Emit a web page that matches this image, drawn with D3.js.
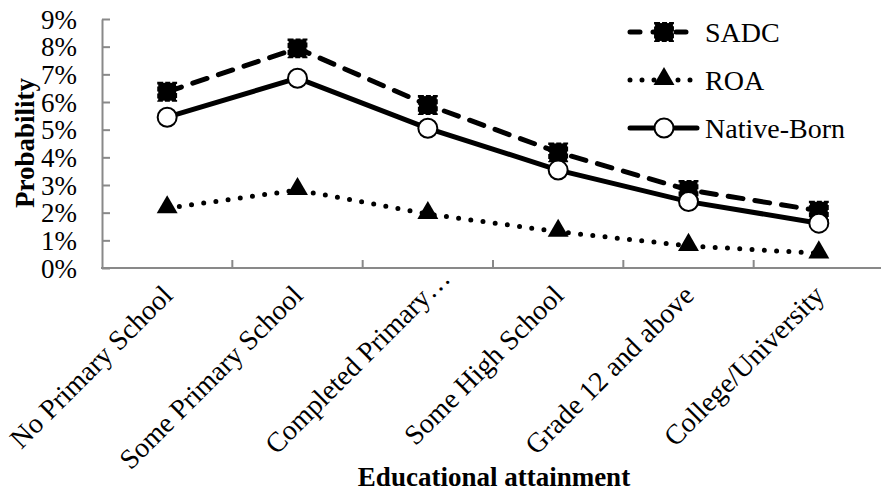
<!DOCTYPE html>
<html>
<head>
<meta charset="utf-8">
<script src="https://cdn.jsdelivr.net/npm/d3@7"></script>
<style>
  html, body { margin: 0; padding: 0; background: #fff; }
  svg { display: block; }
</style>
</head>
<body>
<svg id="chart" width="881" height="491"></svg>
<script>
// Probability by educational attainment
const categories = [
  "No Primary School",
  "Some Primary School",
  "Completed Primary…",
  "Some High School",
  "Grade 12 and above",
  "College/University"
];
const sadc = [0.0637, 0.0794, 0.0589, 0.0418, 0.0282, 0.0207];
const roa = [0.0216, 0.0282, 0.0195, 0.0131, 0.0080, 0.0053];
const nativeBorn = [0.0545, 0.0686, 0.0505, 0.0354, 0.0240, 0.0162];
const yTicks = [0, 0.01, 0.02, 0.03, 0.04, 0.05, 0.06, 0.07, 0.08, 0.09];
const seriesNames = ["SADC", "ROA", "Native-Born"];

const FONT = "'Liberation Serif', 'Times New Roman', Times, serif";
const svg = d3.select("#chart");
const plotLeft = 102, plotRight = 884, plotTop = 19, plotBottom = 268;

const x = d3.scaleBand().domain(categories).range([plotLeft, plotRight]);
const y = d3.scaleLinear().domain([0, 0.09]).range([plotBottom, plotTop]);

const axisColor = "#898989";

// y axis: ticks point into the plot
const yAxis = svg.append("g")
  .attr("transform", `translate(${plotLeft},0)`)
  .call(d3.axisRight(y).tickValues(yTicks).tickSize(8).tickFormat(d3.format(".0%")).tickSizeOuter(0));
yAxis.attr("font-family", null).attr("font-size", null);
yAxis.select(".domain").attr("stroke", axisColor).attr("stroke-width", 2);
yAxis.selectAll(".tick line").attr("stroke", axisColor).attr("stroke-width", 2);
yAxis.selectAll(".tick text")
  .attr("x", -25).attr("text-anchor", "end").attr("dy", "0.34em")
  .style("font-family", FONT).style("font-size", "27px").attr("fill", "#000");

// x axis: ticks between categories, pointing up
const bounds = d3.range(1, categories.length).map(i => plotLeft + i * x.bandwidth());
svg.append("line")
  .attr("x1", plotLeft - 1).attr("x2", plotRight).attr("y1", plotBottom).attr("y2", plotBottom)
  .attr("stroke", axisColor).attr("stroke-width", 2);
svg.selectAll(".xtick").data(bounds).join("line")
  .attr("x1", d => d).attr("x2", d => d)
  .attr("y1", plotBottom).attr("y2", plotBottom - 8)
  .attr("stroke", axisColor).attr("stroke-width", 2);

// rotated category labels; truncated labels sit a little further along the baseline
svg.selectAll(".xlabel").data(categories).join("text")
  .attr("text-anchor", "end")
  .style("font-family", FONT).style("font-size", "28px")
  .attr("transform", d => `translate(${x(d) + x.bandwidth() / 2 + 7},${plotBottom + 29}) rotate(-45)`)
  .attr("dx", d => d.endsWith("…") ? 24 : 0)
  .text(d => d);

// axis titles
svg.append("text")
  .attr("x", 494).attr("y", 486)
  .attr("text-anchor", "middle")
  .style("font-family", FONT).style("font-size", "27px").style("font-weight", "bold")
  .text("Educational attainment");
svg.append("text")
  .attr("transform", "translate(34,143) rotate(-90)")
  .attr("text-anchor", "middle")
  .style("font-family", FONT).style("font-size", "27px").style("font-weight", "bold")
  .text("Probability");

const cx = (d, i) => x(categories[i]) + x.bandwidth() / 2;
const line = d3.line().x((d, i) => cx(d, i)).y(d => y(d));

const square = d3.symbol().type(d3.symbolSquare).size(320);
const triangle = d3.symbol().type(d3.symbolTriangle).size(190);

// ROA – dotted line with triangles
svg.append("path").datum(roa)
  .attr("d", line).attr("fill", "none").attr("stroke", "#000")
  .attr("stroke-width", 5).attr("stroke-linecap", "round")
  .attr("stroke-dasharray", "0 12.3");
svg.selectAll(".roa").data(roa).join("path")
  .attr("d", triangle)
  .attr("transform", (d, i) => `translate(${cx(d, i)},${y(d) - 1})`)
  .attr("fill", "#000");

// SADC – dashed line with squares
svg.append("path").datum(sadc)
  .attr("d", line).attr("fill", "none").attr("stroke", "#000")
  .attr("stroke-width", 5).attr("stroke-linecap", "round")
  .attr("stroke-dasharray", "15 12");
svg.selectAll(".sadc").data(sadc).join("path")
  .attr("d", square)
  .attr("transform", (d, i) => `translate(${cx(d, i)},${y(d)})`)
  .attr("fill", "#000").attr("stroke", "#000").attr("stroke-width", 2)
  .attr("stroke-dasharray", "5 2");

// Native-Born – solid line with open circles
svg.append("path").datum(nativeBorn)
  .attr("d", line).attr("fill", "none").attr("stroke", "#000")
  .attr("stroke-width", 5);
svg.selectAll(".nb").data(nativeBorn).join("circle")
  .attr("cx", (d, i) => cx(d, i)).attr("cy", d => y(d)).attr("r", 9.5)
  .attr("fill", "#fff").attr("stroke", "#000").attr("stroke-width", 2);

// legend
const lg = svg.append("g");
const rows = [
  { name: seriesNames[0], yy: 32, dash: "10 13", kind: "square" },
  { name: seriesNames[1], yy: 80, dash: "0 12", kind: "triangle" },
  { name: seriesNames[2], yy: 128, dash: null, kind: "circle" }
];
rows.forEach(r => {
  const g = lg.append("g").attr("transform", `translate(0,${r.yy})`);
  const ln = g.append("line").attr("x1", 630).attr("x2", 697).attr("y1", 0).attr("y2", 0)
    .attr("stroke", "#000").attr("stroke-width", 5).attr("stroke-linecap", "round");
  if (r.dash) ln.attr("stroke-dasharray", r.dash);
  if (r.kind === "square") {
    g.append("path").attr("d", square).attr("transform", "translate(664,0)")
      .attr("fill", "#000").attr("stroke", "#000").attr("stroke-width", 2).attr("stroke-dasharray", "5 2");
  } else if (r.kind === "triangle") {
    g.append("path").attr("d", triangle).attr("transform", "translate(664,-1)").attr("fill", "#000");
  } else {
    g.append("circle").attr("cx", 664).attr("cy", 0).attr("r", 9.5)
      .attr("fill", "#fff").attr("stroke", "#000").attr("stroke-width", 2);
  }
  g.append("text").attr("x", 705).attr("y", 0).attr("dy", "0.34em")
    .style("font-family", FONT).style("font-size", "28px").text(r.name);
});
</script>
</body>
</html>
